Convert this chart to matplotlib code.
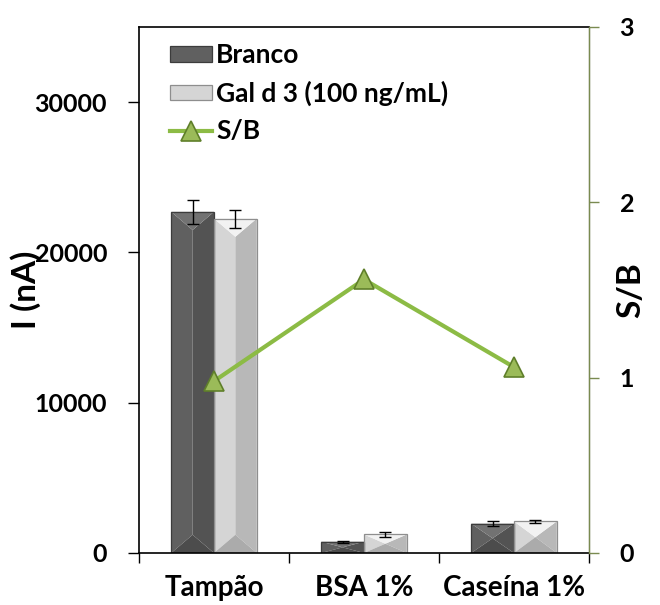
import matplotlib.pyplot as plt
from matplotlib.patches import Polygon, Patch
import numpy as np

plt.rcParams['font.family'] = ['Lato', 'DejaVu Sans']
plt.rcParams['font.weight'] = 'bold'

categories = ['Tampão', 'BSA 1%', 'Caseína 1%']
branco = [22700, 750, 1950]
branco_err = [800, 60, 180]
gal = [22250, 1230, 2100]
gal_err = [600, 150, 100]
sb = [0.98, 1.56, 1.06]

x = np.arange(len(categories))
w = 0.285

fig = plt.figure(figsize=(6.6, 6.05), dpi=100)
ax = fig.add_axes([0.2106, 0.086, 0.6818, 0.8694])
ax.set_xlim(-0.5, 2.5)
ax.set_ylim(0, 35000)

# depth of the bevel, roughly half a bar width on screen
depth = 0.5 * w * (35000 / 3.0) * (450 / 525) * 0.85


def bevel_bars(pos, vals, faces, edge):
    top_c, left_c, right_c, bot_c = faces
    for p, v in zip(pos, vals):
        l, r, m = p - w / 2, p + w / 2, p
        d = min(depth, v / 2)
        ax.add_patch(Polygon([(l, 0), (l, v), (m, v - d), (m, d)], closed=True,
                             facecolor=left_c, edgecolor='none', zorder=2))
        ax.add_patch(Polygon([(r, 0), (r, v), (m, v - d), (m, d)], closed=True,
                             facecolor=right_c, edgecolor='none', zorder=2))
        ax.add_patch(Polygon([(l, v), (r, v), (m, v - d)], closed=True,
                             facecolor=top_c, edgecolor='none', zorder=2))
        ax.add_patch(Polygon([(l, 0), (r, 0), (m, d)], closed=True,
                             facecolor=bot_c, edgecolor='none', zorder=2))
    ax.bar(pos, vals, w, color='none', edgecolor=edge, linewidth=0.9, zorder=2.2)
    return Patch(facecolor=left_c, edgecolor=edge, linewidth=0.9)


h1 = bevel_bars(x - w / 2, branco, ('#727272', '#606060', '#535353', '#4c4c4c'), '#3c3c3c')
h2 = bevel_bars(x + w / 2, gal, ('#f2f2f2', '#d5d5d5', '#b8b8b8', '#ababab'), '#8e8e8e')
ax.errorbar(x - w / 2, branco, yerr=branco_err, fmt='none', ecolor='black',
            elinewidth=1, capsize=4, capthick=1, zorder=3)
ax.errorbar(x + w / 2, gal, yerr=gal_err, fmt='none', ecolor='black',
            elinewidth=1, capsize=4, capthick=1, zorder=3)

ax.set_yticks([0, 10000, 20000, 30000])
ax.set_xticks(x)
ax.set_xticklabels(categories, fontsize=20, fontweight='bold')
ax.set_xticks([-0.5, 0.5, 1.5, 2.5], minor=True)
ax.tick_params(axis='x', which='major', length=0, pad=16)
ax.tick_params(axis='x', which='minor', length=7, width=1, direction='out')
ax.tick_params(axis='y', labelsize=18, length=8, width=1, direction='out', pad=15)
for t in ax.get_yticklabels():
    t.set_fontweight('bold')
ax.set_ylabel('I (nA)', fontsize=24, fontweight='bold')
ax.yaxis.set_label_coords(-0.218, 0.5)
for s in ['left', 'bottom', 'top']:
    ax.spines[s].set_linewidth(1.2)
    ax.spines[s].set_color('black')

ax2 = ax.twinx()
ax2.set_ylim(0, 3)
ax2.set_yticks([0, 1, 2, 3])
ax2.spines['right'].set_color('#7a8a50')
ax2.spines['right'].set_linewidth(1)
ax2.spines['top'].set_visible(False)
ax2.spines['left'].set_visible(False)
ax2.spines['bottom'].set_visible(False)
ax2.tick_params(axis='y', labelsize=18, length=7, width=1, color='#7a8a50',
                direction='out', pad=15)
for t in ax2.get_yticklabels():
    t.set_fontweight('bold')
ax2.set_ylabel('S/B', fontsize=24, fontweight='bold')
ax2.yaxis.set_label_coords(1.06, 0.5)
ln, = ax2.plot(x, sb, color='#8cbb45', linewidth=3, marker='^', markersize=14,
               markerfacecolor='#9bbb59', markeredgecolor='#5f7f2a', markeredgewidth=1.2,
               zorder=4)

ax2.legend([h1, h2, ln], ['Branco', 'Gal d 3 (100 ng/mL)', 'S/B'],
           loc='upper left', bbox_to_anchor=(0.016, 1.014), frameon=False,
           prop={'size': 19, 'weight': 'bold'}, handlelength=1.6, handleheight=0.5,
           handletextpad=0.15, labelspacing=0.5)

fig.savefig('out.png', dpi=100)
